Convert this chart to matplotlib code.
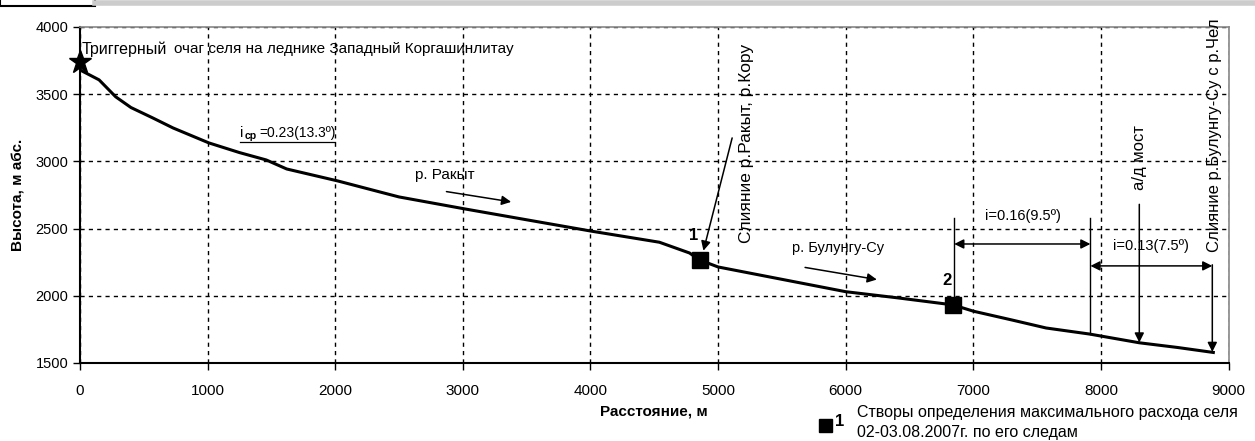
import matplotlib
matplotlib.use("Agg")
import matplotlib.pyplot as plt
from matplotlib.lines import Line2D
from matplotlib.patches import Rectangle

# longitudinal profile of the channel
dist = [0, 150, 280, 400, 570, 730, 1010, 1250, 1460, 1620, 2020, 2350, 2500,
        3015, 3500, 4010, 4540, 4776, 4855, 5000, 5500, 6000, 6400, 6840,
        7000, 7300, 7570, 7910, 8300, 8600, 8880]
elev = [3680, 3606, 3480, 3400, 3323, 3248, 3137, 3065, 3010, 2943, 2854, 2772, 2735,
        2646, 2565, 2480, 2398, 2318, 2266, 2214, 2122, 2030, 1985, 1932,
        1885, 1820, 1760, 1715, 1650, 1615, 1578]

# trigger point (star)
star_x, star_y = [0], [3740]

# measurement sections
sect_x = [4855, 6840]
sect_y = [2266, 1932]
sect_lbl = ["1", "2"]

xticks = list(range(0, 10000, 1000))
yticks = list(range(1500, 4500, 500))

plt.rcParams["font.family"] = ["Liberation Sans", "DejaVu Sans"]

fig = plt.figure(figsize=(12.55, 4.41), dpi=100)
ax = fig.add_axes([0.0637, 0.177, 0.9153, 0.762])

ax.plot(dist, elev, color="black", lw=2.2, zorder=3)
ax.plot(star_x, star_y, marker="*", color="black", markersize=17, ls="none",
        zorder=4, clip_on=False)
ax.plot(sect_x, sect_y, marker="s", color="black", markersize=11, ls="none", zorder=4)
for sx, sy, lb in zip(sect_x, sect_y, sect_lbl):
    ax.text(sx - 50, sy + 180, lb, fontsize=12, fontweight="bold", ha="center",
            va="center")

ax.set_xlim(0, 9000)
ax.set_ylim(1500, 4000)
ax.set_xticks(xticks)
ax.set_yticks(yticks)
ax.grid(True, color="black", lw=1.0, ls=(0, (3, 3)))
ax.tick_params(axis="y", labelsize=10.5, length=5, width=1)
ax.tick_params(axis="x", labelsize=11, length=5, width=1, pad=10)
for s in ("left", "bottom"):
    ax.spines[s].set_linewidth(1.5)
for s in ("top", "right"):
    ax.spines[s].set_color("#888888")
    ax.spines[s].set_linewidth(1.2)

ax.set_xlabel("Расстояние, м", fontsize=11, fontweight="bold")
ax.xaxis.set_label_coords(0.5, -0.125)
ax.set_ylabel("Высота, м абс.", fontsize=11, fontweight="bold")
ax.yaxis.set_label_coords(-0.047, 0.5)

# annotations
ax.text(15, 3836, "Триггерный", fontsize=11.5, va="center", ha="left")
ax.text(740, 3836, "очаг селя на леднике Западный Коргашинлитау", fontsize=11,
        va="center", ha="left")

ax.text(1253, 3211, "i", fontsize=10.5, va="center", ha="left")
ax.text(1290, 3185, "ср", fontsize=7.5, va="center", ha="left", fontweight="bold")
ax.text(1402, 3211, "=0.23(13.3º)", fontsize=10, va="center", ha="left")
ax.plot([1253, 1995], [3140, 3140], color="black", lw=0.9)

ax.text(2624, 2899, "р. Ракыт", fontsize=11, va="center", ha="left")
ax.annotate("", xy=(3400, 2695), xytext=(2850, 2778),
            arrowprops=dict(arrowstyle="-|>", color="black", lw=1.1,
                            mutation_scale=14))

ax.text(5224, 2393, "Слияние р.Ракыт, р.Кору", fontsize=12.5, rotation=90,
        ha="center", va="bottom", clip_on=True)
ax.annotate("", xy=(4885, 2335), xytext=(5110, 3174),
            arrowprops=dict(arrowstyle="-|>", color="black", lw=1.1,
                            mutation_scale=14, shrinkA=0, shrinkB=0))

ax.text(5577, 2356, "р. Булунгу-Су", fontsize=10.5, va="center", ha="left")
ax.annotate("", xy=(6265, 2117), xytext=(5660, 2214),
            arrowprops=dict(arrowstyle="-|>", color="black", lw=1.1,
                            mutation_scale=14))

ax.plot([6850, 6850], [2580, 1990], color="black", lw=1)
ax.plot([7917, 7917], [2580, 1715], color="black", lw=1)
ax.annotate("", xy=(6850, 2385), xytext=(7917, 2385),
            arrowprops=dict(arrowstyle="<|-|>", color="black", lw=1.1,
                            mutation_scale=14, shrinkA=0, shrinkB=0))
ax.text(7088, 2594, "i=0.16(9.5º)", fontsize=10.5, va="center", ha="left")
ax.annotate("", xy=(7917, 2222), xytext=(8872, 2222),
            arrowprops=dict(arrowstyle="<|-|>", color="black", lw=1.1,
                            mutation_scale=14, shrinkA=0, shrinkB=0))
ax.text(8091, 2371, "i=0.13(7.5º)", fontsize=10.5, va="center", ha="left")

ax.text(8303, 2787, "а/д мост", fontsize=12, rotation=90, ha="center", va="bottom")
ax.annotate("", xy=(8300, 1652), xytext=(8300, 2680),
            arrowprops=dict(arrowstyle="-|>", color="black", lw=1.1,
                            mutation_scale=14, shrinkA=0, shrinkB=0))

ax.text(8892, 2326, "Слияние р.Булунгу-Су с р.Чел", fontsize=12, rotation=90,
        ha="center", va="bottom", clip_on=False)
ax.annotate("", xy=(8872, 1582), xytext=(8872, 2230),
            arrowprops=dict(arrowstyle="-|>", color="black", lw=1.1,
                            mutation_scale=14, shrinkA=0, shrinkB=0))

# legend-like note
fig.add_artist(Rectangle((819 / 1255, 1 - 432 / 441), 13 / 1255, 13 / 441,
                         transform=fig.transFigure, color="black"))
fig.text(835 / 1255, 1 - 421 / 441, "1", fontsize=12, fontweight="bold",
         va="center", ha="left")
fig.text(857 / 1255, 1 - 413 / 441, "Створы определения максимального расхода селя",
         fontsize=11.5, va="center", ha="left")
fig.text(857 / 1255, 1 - 433 / 441, "02-03.08.2007г. по его следам",
         fontsize=11.5, va="center", ha="left")

# page border remnants at the top
fig.add_artist(Line2D([95 / 1255, 1], [1 - 3 / 441, 1 - 3 / 441],
                      transform=fig.transFigure, color="#cccccc", lw=4))
fig.add_artist(Rectangle((0, 1 - 6 / 441), 95 / 1255, 10 / 441,
                         transform=fig.transFigure, fill=False, ec="black", lw=1.5))

fig.savefig("out.png", dpi=100)
